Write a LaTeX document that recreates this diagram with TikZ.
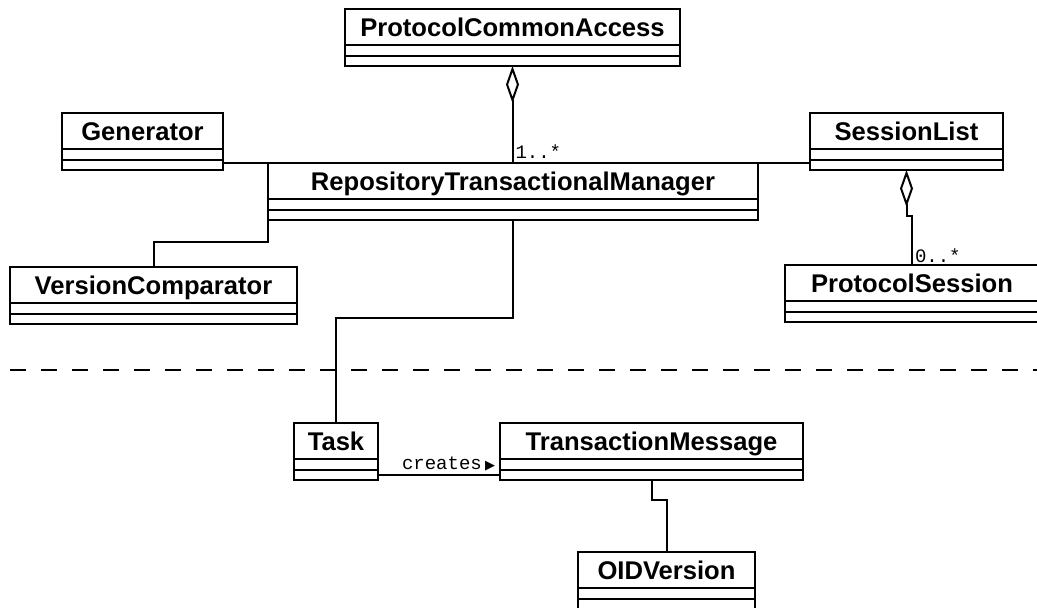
\documentclass[tikz,border=0pt]{standalone}
\usepackage{fontspec}
\usetikzlibrary{shapes.multipart,arrows.meta}

\newfontfamily\classfont{Liberation Sans}
\newfontfamily\multfont{Liberation Mono}
\newfontfamily\symfont{DejaVu Sans}

\newcommand{\classtitle}[1]{\noindent\rule[-8pt]{0pt}{34pt}#1}

\tikzset{
	umlclass/.style={rectangle split, rectangle split parts=3, draw, line width=2pt,
		outer sep=0pt, inner xsep=0pt, inner ysep=0pt,
		rectangle split empty part height=8.5pt, rectangle split empty part depth=0pt,
		anchor=north west, align=center, font=\classfont\bfseries\fontsize{25.6}{25.6}\selectfont},
	assoc/.style={line width=2pt},
	aggr/.style={assoc, {Diamond[open, length=37pt, width=13pt]}-},
	mult/.style={font=\multfont\fontsize{19}{19}\selectfont, inner sep=0pt, anchor=base west},
}

\begin{document}
\begin{tikzpicture}[x=1pt, y=-1pt]
	\useasboundingbox (0,0) rectangle (1037,608);

	\node[umlclass, text width=335pt] (pca) at (345,9) {\classtitle{ProtocolCommonAccess}};
	\node[umlclass, text width=161pt] (gen) at (62,113) {\classtitle{Generator}};
	\node[umlclass, text width=193pt] (sl) at (810,113) {\classtitle{SessionList}};
	\node[umlclass, text width=490pt] (rtm) at (268,163) {\classtitle{RepositoryTransactionalManager}};
	\node[umlclass, text width=287pt] (vc) at (10,267) {\classtitle{VersionComparator}};
	\node[umlclass, text width=254pt] (ps) at (785,265) {\classtitle{ProtocolSession}};
	\node[umlclass, text width=84pt] (task) at (294,423) {\classtitle{Task}};
	\node[umlclass, text width=303pt] (tm) at (500,423) {\classtitle{TransactionMessage}};
	\node[umlclass, text width=177pt] (oid) at (578,552) {\classtitle{OIDVersion}};

	\draw[aggr] (pca.south) -- (pca.south |- rtm.north) node[mult, shift={(2pt,5pt)}] {1..*};
	\draw[assoc] (gen.east |- rtm.north west) -- (rtm.north west);
	\draw[assoc] (rtm.north east) -- (rtm.north east -| sl.west);
	\draw[aggr] (sl.south) -- ++(0,46) -| (ps.north) node[mult, shift={(2pt,3pt)}] {0..*};
	\draw[assoc] (rtm.south west) -- ++(0,22) -| (vc.north);
	\draw[assoc] (rtm.south) -- ++(0,98) -| (task.north);
	\draw[assoc] ([yshift=5pt]task.south east) -- ([yshift=5pt]tm.south west)
		node[mult, anchor=base east, shift={(-4pt,6pt)}] {creates\,{\symfont\fontsize{13}{13}\selectfont ▶}};
	\draw[assoc] (tm.south) -- ++(0,20) -| (oid.north);

	% boundary between the two layers
	\draw[line width=2pt, dash pattern=on 16pt off 15pt] (10,370) -- (1040,370);
\end{tikzpicture}
\end{document}
